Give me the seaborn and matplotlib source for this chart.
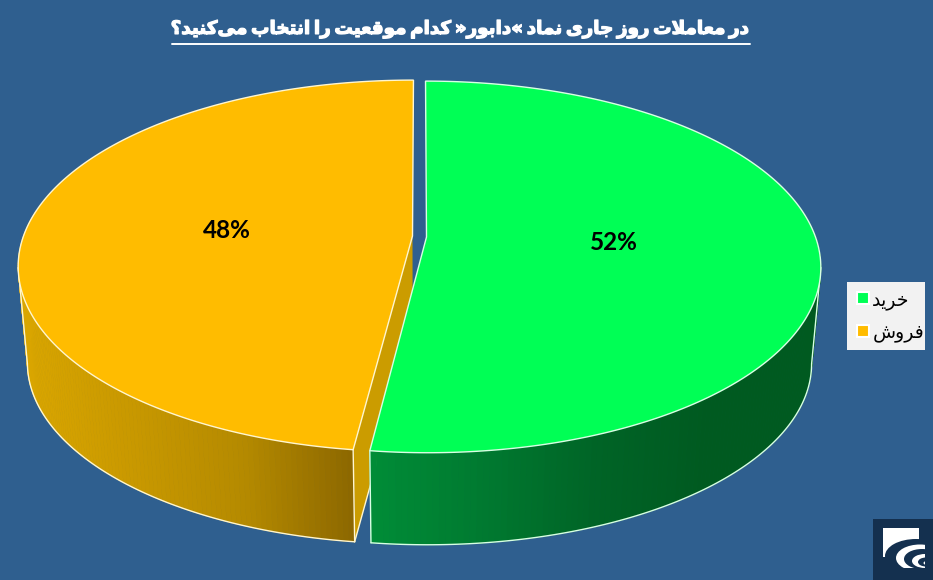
import numpy as np
import pandas as pd
import matplotlib
matplotlib.use("Agg")
import matplotlib.pyplot as plt
import matplotlib.patheffects as pe
from matplotlib.lines import Line2D
from matplotlib.patches import Ellipse, Rectangle
import seaborn as sns

# values
labels = ["خرید", "فروش"]
shares = [52, 48]
title = "در معاملات روز جاری نماد «دابور» کدام موقعیت را انتخاب می‌کنید؟"

top_colors = ["#00FF55", "#FFBC00"]
wall_colors = [["#008C37", "#007A30", "#006426", "#005A20", "#005A20"],
               ["#DAA600", "#C89800", "#B58A00", "#8C6700"]]
cut_color = "#CB9C00"
bg_color = "#2F5F8F"

# pie placement, in pixels of the 933x580 picture
CENTER_X = 419.5
apex_y = [237, 236]
explode = [0.018, -0.018]
RX, RY, TILT = 389, 181, 0.161
DEPTH_Y, DEPTH_SCALE = 97, 0.977

# (isolated, final, initial, medial) presentation forms
FORMS = {
    "ا": (0xFE8D, 0xFE8E), "د": (0xFEA9, 0xFEAA), "ر": (0xFEAD, 0xFEAE),
    "ز": (0xFEAF, 0xFEB0), "و": (0xFEED, 0xFEEE),
    "ب": (0xFE8F, 0xFE90, 0xFE91, 0xFE92), "ت": (0xFE95, 0xFE96, 0xFE97, 0xFE98),
    "ج": (0xFE9D, 0xFE9E, 0xFE9F, 0xFEA0), "خ": (0xFEA5, 0xFEA6, 0xFEA7, 0xFEA8),
    "ش": (0xFEB5, 0xFEB6, 0xFEB7, 0xFEB8), "ع": (0xFEC9, 0xFECA, 0xFECB, 0xFECC),
    "ف": (0xFED1, 0xFED2, 0xFED3, 0xFED4), "ق": (0xFED5, 0xFED6, 0xFED7, 0xFED8),
    "ک": (0xFB8E, 0xFB8F, 0xFB90, 0xFB91), "ل": (0xFEDD, 0xFEDE, 0xFEDF, 0xFEE0),
    "م": (0xFEE1, 0xFEE2, 0xFEE3, 0xFEE4), "ن": (0xFEE5, 0xFEE6, 0xFEE7, 0xFEE8),
    "ی": (0xFBFC, 0xFBFD, 0xFBFE, 0xFBFF),
}


def shape(text):
    # matplotlib has no bidi or joining, so build the visual string by hand
    text = text.replace("لا", "\uFEFB")
    out = []
    for i, ch in enumerate(text):
        prev = text[i - 1] if i else " "
        nxt = text[i + 1] if i + 1 < len(text) else " "
        if ch == "\uFEFB":
            out.append("\uFEFC" if prev in FORMS and len(FORMS[prev]) == 4 else ch)
        elif ch in FORMS:
            f = FORMS[ch]
            joins_prev = prev in FORMS and len(FORMS[prev]) == 4
            joins_next = len(f) == 4 and (nxt in FORMS or nxt == "\uFEFB")
            if joins_prev and joins_next:
                out.append(chr(f[3]))
            elif joins_prev:
                out.append(chr(f[1]))
            elif joins_next:
                out.append(chr(f[2]))
            else:
                out.append(chr(f[0]))
        elif ch != "\u200c":
            out.append(ch)
    return "".join(reversed(out))


def project(theta, r, shift, y0, scale=1.0):
    # theta clockwise from the top of the disc, with perspective on the far side
    u, v = r * np.sin(theta) + shift, r * np.cos(theta)
    w = 1 + TILT * v
    return CENTER_X + scale * RX * u / w, y0 - scale * RY * v / w


sns.set_theme(style="white")
plt.rcParams["font.family"] = ["DejaVu Sans"]

df = pd.DataFrame({"label": labels, "share": shares, "color": top_colors})
df["start"] = df["share"].cumsum().shift(fill_value=0) / df["share"].sum() * 2 * np.pi
df["end"] = df["share"].cumsum() / df["share"].sum() * 2 * np.pi

fig = plt.figure(figsize=(9.33, 5.8), dpi=100, facecolor=bg_color)
ax = fig.add_axes([0, 0, 1, 1])
ax.set_xlim(0, 933)
ax.set_ylim(580, 0)
ax.axis("off")

# yellow slice goes first, green sits in front of it
for i in [1, 0]:
    row = df.iloc[i]
    e, y0 = explode[i], apex_y[i]
    th = np.linspace(row["start"], row["end"], 240)
    tx, ty = project(th, 1, e, y0)
    bx, by = project(th, 1, e, y0 + DEPTH_Y, DEPTH_SCALE)
    ax0, ay0 = project(0.0, 0, e, y0)
    bx0, by0 = project(0.0, 0, e, y0 + DEPTH_Y, DEPTH_SCALE)
    edge = "#D8FFE4" if i == 0 else "#FFF6D0"

    # cut face of the yellow slice, seen through the gap
    if i == 1:
        ax.fill([ax0, tx[0], bx[0], bx0], [ay0, ty[0], by[0], by0], color=cut_color, lw=0, zorder=2)
        ax.plot([bx[0], bx0], [by[0], by0], color=edge, lw=1, zorder=2)

    # side wall, a horizontal shade across the visible width
    front = np.cos(th) < 0.15
    palette = sns.blend_palette(wall_colors[i], 256)
    vis = np.where(front)[0]
    lo, hi = tx[vis].min(), tx[vis].max()
    for a, b in zip(vis[:-1], vis[1:]):
        if b != a + 1:
            continue
        k = int((0.5 * (tx[a] + tx[b]) - lo) / (hi - lo) * 255)
        ax.fill([tx[a], tx[b], bx[b], bx[a]], [ty[a], ty[b], by[b], by[a]],
                color=palette[k], lw=0.6, zorder=2 + i * 2)

    # outline of the wall: silhouette from the widest points, then the lower rim
    if i == 0:
        widest_t, widest_b = np.argmax(tx), np.argmax(bx)
        rim = np.arange(widest_b, len(th))
        corner = -1
    else:
        widest_t, widest_b = np.argmin(tx), np.argmin(bx)
        rim = np.arange(0, widest_b + 1)
        corner = 0
    ax.plot(bx[rim], by[rim], color=edge, lw=1, zorder=3 + i * 2)
    ax.plot([tx[widest_t], bx[widest_b]], [ty[widest_t], by[widest_b]], color=edge, lw=1, zorder=3 + i * 2)
    ax.plot([tx[corner], bx[corner]], [ty[corner], by[corner]], color=edge, lw=1, zorder=3 + i * 2)

    # top face
    ax.fill(np.r_[ax0, tx, ax0], np.r_[ay0, ty, ay0], facecolor=row["color"], edgecolor=edge, lw=1, zorder=6)

    mid = 0.5 * (row["start"] + row["end"])
    lx, ly = project(mid, 0.48, e, y0)
    ax.text(lx, ly, f'{row["share"]}%', family="Lato", weight="bold", size=17.5,
            color="black", ha="center", va="center", zorder=7)

# title with its rule
ax.text(461, 29, shape(title).replace(" ", "\u2009"), family="DejaVu Sans", weight="bold", size=13.2,
        color="white", ha="center", va="center",
        path_effects=[pe.withStroke(linewidth=0.9, foreground="white")])
ax.plot([172, 750], [44, 44], color="white", lw=1.4)

# legend, on its own panel so the box size matches
ax.add_patch(Rectangle((847, 282), 78, 68, color="#F2F2F2", lw=0, zorder=4))
handles = [Line2D([], [], ls="", marker="s", ms=8, mfc=c, mec="white", mew=1.5) for c in top_colors]
leg = ax.legend(handles, [shape(s) for s in labels], loc="upper left",
                bbox_to_anchor=(847, 282), bbox_transform=ax.transData,
                frameon=False, fontsize=13.6, handletextpad=0.07, handlelength=0.85,
                labelspacing=0.7, borderpad=0.42, borderaxespad=0, labelcolor="black")

# logo in the corner
ax.add_patch(Rectangle((873, 519), 60, 61, color="#14304F", lw=0, zorder=8))
ax.add_patch(Rectangle((883, 528), 36, 29, color="white", lw=0, zorder=9))
clip = Rectangle((873, 519), 52, 49, transform=ax.transData)
rings = [(916, 556, 62, 34, "#14304F"), (920, 558, 48, 27, "white"),
         (922, 559, 36, 20, "#14304F"), (925, 561, 26, 14, "white"),
         (926, 562, 16, 9, "#14304F"), (927, 563, 7, 4, "white")]
for cx0, cy0, w, h, c in rings:
    ring = Ellipse((cx0, cy0), w, h, color=c, lw=0, zorder=10)
    ax.add_patch(ring)
    ring.set_clip_path(clip)

fig.savefig("out.png", dpi=100, facecolor=bg_color)
